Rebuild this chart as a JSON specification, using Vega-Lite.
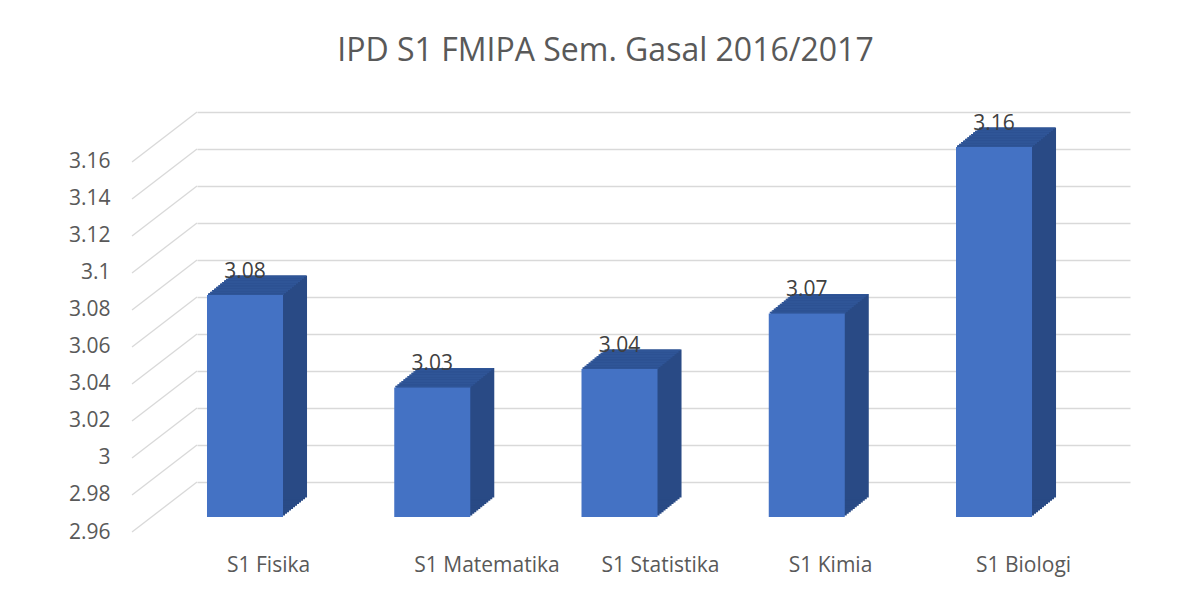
{
  "$schema": "https://vega.github.io/schema/vega-lite/v6.json",
  "width": 933,
  "height": 405,
  "autosize": "none",
  "padding": {"left": 197, "top": 112, "right": 66, "bottom": 77},
  "background": "white",
  "title": {"text": "IPD S1 FMIPA Sem. Gasal 2016/2017", "fontSize": 32, "font": "Open Sans", "fontWeight": "normal", "color": "#595959", "anchor": "middle", "frame": "group", "dx": -58, "offset": 43},
  "config": {"view": {"stroke": null}, "font": "Open Sans"},
  "datasets": {
    "ipd": [
      {"prodi": "S1 Fisika", "value": 3.08},
      {"prodi": "S1 Matematika", "value": 3.03},
      {"prodi": "S1 Statistika", "value": 3.04},
      {"prodi": "S1 Kimia", "value": 3.07},
      {"prodi": "S1 Biologi", "value": 3.16}
    ],
    "ticks": [
      {"value": 2.96}, {"value": 2.98}, {"value": 3.0}, {"value": 3.02}, {"value": 3.04}, {"value": 3.06},
      {"value": 3.08}, {"value": 3.1}, {"value": 3.12}, {"value": 3.14}, {"value": 3.16}
    ]
  },
  "data": {"name": "ipd"},
  "encoding": {
    "x": {
      "field": "prodi", "type": "nominal", "sort": null,
      "scale": {"paddingInner": 0.594, "paddingOuter": 0.2883, "align": 0.0926},
      "axis": {"title": null, "labelAlign": "left", "labelOffset": -18, "labelPadding": 37, "ticks": false, "domain": false, "labelFontSize": 21, "labelColor": "#595959", "labelAngle": 0, "grid": false, "labelFont": "Open Sans"}
    },
    "y": {
      "field": "value", "type": "quantitative", "stack": null,
      "scale": {"domain": [2.96, 3.1789], "nice": false, "zero": false},
      "axis": {"title": null, "values": [2.96, 2.98, 3.0, 3.02, 3.04, 3.06, 3.08, 3.1, 3.12, 3.14, 3.16], "format": "~g", "grid": true, "gridColor": "#D9D9D9", "gridWidth": 1.3, "tickOffset": -35, "labelOffset": 50, "domain": false, "ticks": false, "labelPadding": 87, "labelFontSize": 21, "labelColor": "#595959", "labelFont": "Open Sans"}
    }
  },
  "layer": [
    {
      "data": {"name": "ticks"},
      "mark": {"type": "rule", "color": "#D9D9D9", "strokeWidth": 1.3, "yOffset": 15, "y2Offset": -35},
      "encoding": {"x": {"value": -65}, "x2": {"value": 0}, "y2": {"field": "value"}}
    },
    {"mark": {"type": "bar", "color": "#294A85", "xOffset": 2, "x2Offset": 2, "yOffset": -1.625, "y2Offset": -1.625}, "encoding": {"y2": {"datum": 2.96}}},
    {"mark": {"type": "bar", "color": "#294A85", "xOffset": 4, "x2Offset": 4, "yOffset": -3.25, "y2Offset": -3.25}, "encoding": {"y2": {"datum": 2.96}}},
    {"mark": {"type": "bar", "color": "#294A85", "xOffset": 6, "x2Offset": 6, "yOffset": -4.875, "y2Offset": -4.875}, "encoding": {"y2": {"datum": 2.96}}},
    {"mark": {"type": "bar", "color": "#294A85", "xOffset": 8, "x2Offset": 8, "yOffset": -6.5, "y2Offset": -6.5}, "encoding": {"y2": {"datum": 2.96}}},
    {"mark": {"type": "bar", "color": "#294A85", "xOffset": 10, "x2Offset": 10, "yOffset": -8.125, "y2Offset": -8.125}, "encoding": {"y2": {"datum": 2.96}}},
    {"mark": {"type": "bar", "color": "#294A85", "xOffset": 12, "x2Offset": 12, "yOffset": -9.75, "y2Offset": -9.75}, "encoding": {"y2": {"datum": 2.96}}},
    {"mark": {"type": "bar", "color": "#294A85", "xOffset": 14, "x2Offset": 14, "yOffset": -11.375, "y2Offset": -11.375}, "encoding": {"y2": {"datum": 2.96}}},
    {"mark": {"type": "bar", "color": "#294A85", "xOffset": 16, "x2Offset": 16, "yOffset": -13, "y2Offset": -13}, "encoding": {"y2": {"datum": 2.96}}},
    {"mark": {"type": "bar", "color": "#294A85", "xOffset": 18, "x2Offset": 18, "yOffset": -14.625, "y2Offset": -14.625}, "encoding": {"y2": {"datum": 2.96}}},
    {"mark": {"type": "bar", "color": "#294A85", "xOffset": 20, "x2Offset": 20, "yOffset": -16.25, "y2Offset": -16.25}, "encoding": {"y2": {"datum": 2.96}}},
    {"mark": {"type": "bar", "color": "#294A85", "xOffset": 22, "x2Offset": 22, "yOffset": -17.875, "y2Offset": -17.875}, "encoding": {"y2": {"datum": 2.96}}},
    {"mark": {"type": "bar", "color": "#294A85", "xOffset": 24, "x2Offset": 24, "yOffset": -19.5, "y2Offset": -19.5}, "encoding": {"y2": {"datum": 2.96}}},
    {"mark": {"type": "bar", "color": "#2F5597", "xOffset": 1, "x2Offset": 1, "yOffset": -1.625, "y2Offset": 0}, "encoding": {"y2": {"field": "value"}}},
    {"mark": {"type": "bar", "color": "#2F5597", "xOffset": 3, "x2Offset": 3, "yOffset": -3.25, "y2Offset": -1.625}, "encoding": {"y2": {"field": "value"}}},
    {"mark": {"type": "bar", "color": "#2F5597", "xOffset": 5, "x2Offset": 5, "yOffset": -4.875, "y2Offset": -3.25}, "encoding": {"y2": {"field": "value"}}},
    {"mark": {"type": "bar", "color": "#2F5597", "xOffset": 7, "x2Offset": 7, "yOffset": -6.5, "y2Offset": -4.875}, "encoding": {"y2": {"field": "value"}}},
    {"mark": {"type": "bar", "color": "#2F5597", "xOffset": 9, "x2Offset": 9, "yOffset": -8.125, "y2Offset": -6.5}, "encoding": {"y2": {"field": "value"}}},
    {"mark": {"type": "bar", "color": "#2F5597", "xOffset": 11, "x2Offset": 11, "yOffset": -9.75, "y2Offset": -8.125}, "encoding": {"y2": {"field": "value"}}},
    {"mark": {"type": "bar", "color": "#2F5597", "xOffset": 13, "x2Offset": 13, "yOffset": -11.375, "y2Offset": -9.75}, "encoding": {"y2": {"field": "value"}}},
    {"mark": {"type": "bar", "color": "#2F5597", "xOffset": 15, "x2Offset": 15, "yOffset": -13, "y2Offset": -11.375}, "encoding": {"y2": {"field": "value"}}},
    {"mark": {"type": "bar", "color": "#2F5597", "xOffset": 17, "x2Offset": 17, "yOffset": -14.625, "y2Offset": -13}, "encoding": {"y2": {"field": "value"}}},
    {"mark": {"type": "bar", "color": "#2F5597", "xOffset": 19, "x2Offset": 19, "yOffset": -16.25, "y2Offset": -14.625}, "encoding": {"y2": {"field": "value"}}},
    {"mark": {"type": "bar", "color": "#2F5597", "xOffset": 21, "x2Offset": 21, "yOffset": -17.875, "y2Offset": -16.25}, "encoding": {"y2": {"field": "value"}}},
    {"mark": {"type": "bar", "color": "#2F5597", "xOffset": 23, "x2Offset": 23, "yOffset": -19.5, "y2Offset": -17.875}, "encoding": {"y2": {"field": "value"}}},
    {"mark": {"type": "bar", "color": "#4472C4"}, "encoding": {"y2": {"datum": 2.96}}},
    {
      "mark": {"type": "text", "baseline": "alphabetic", "align": "center", "dy": -17, "fontSize": 21, "color": "#404040", "font": "Open Sans"},
      "encoding": {"text": {"field": "value", "type": "quantitative", "format": ".2f"}}
    }
  ]
}
